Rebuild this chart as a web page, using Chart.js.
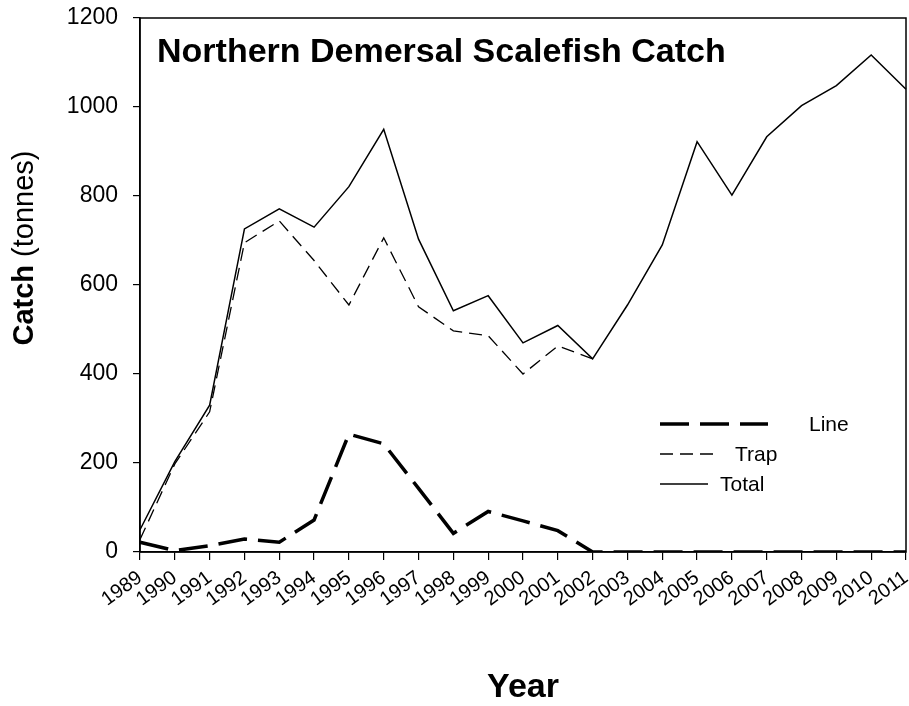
<!DOCTYPE HTML>
<html>
<head>
  <script src="https://cdn.jsdelivr.net/npm/chart.js"></script>
  <style>
    body { margin: 0; background: #fff; }
    #wrap { width: 909px; height: 706px; }
  </style>
</head>
<body>
  <div id="wrap"><canvas id="catchChart" width="909" height="706"></canvas></div>

  <script>
    // Data
    var years = ['1989','1990','1991','1992','1993','1994','1995','1996','1997','1998','1999',
                 '2000','2001','2002','2003','2004','2005','2006','2007','2008','2009','2010','2011'];
    var lineCatch  = [22, 3, 14, 29, 22, 72, 265, 243, 143, 42, 91, 70, 48, 0, 0, 0, 0, 0, 0, 0, 0, 0, 0];
    var trapCatch  = [28, 198, 315, 695, 744, 655, 555, 706, 551, 497, 486, 400, 463, 434];
    var totalCatch = [50, 203, 330, 726, 771, 730, 821, 950, 703, 542, 576, 470, 509, 434,
                      555, 690, 922, 802, 933, 1003, 1048, 1117, 1040];
    var yTicks = [0, 200, 400, 600, 800, 1000, 1200];

    var FONT = 'Arial, "Liberation Sans", sans-serif';
    Chart.defaults.font.family = FONT;
    Chart.defaults.color = '#000';

    // title, y title, box and legend drawn inside the plot like the original
    var extras = {
      id: 'extras',
      afterDraw: function(chart) {
        var ctx = chart.ctx, a = chart.chartArea;
        ctx.save();
        ctx.strokeStyle = '#000';
        ctx.lineWidth = 1.5;
        ctx.setLineDash([]);
        ctx.strokeRect(a.left, a.top, a.right - a.left, a.bottom - a.top);

        ctx.fillStyle = '#000';
        ctx.font = 'bold 34px ' + FONT;
        ctx.textBaseline = 'alphabetic';
        ctx.textAlign = 'left';
        ctx.fillText('Northern Demersal Scalefish Catch', a.left + 17, 62);

        // y axis title, mixed weight
        ctx.save();
        ctx.translate(33, 248);
        ctx.rotate(-Math.PI / 2);
        ctx.font = 'bold 29px ' + FONT;
        var w1 = ctx.measureText('Catch').width;
        ctx.font = '29px ' + FONT;
        var w2 = ctx.measureText(' (tonnes)').width;
        var x0 = -(w1 + w2) / 2;
        ctx.font = 'bold 29px ' + FONT;
        ctx.fillText('Catch', x0, 0);
        ctx.font = '29px ' + FONT;
        ctx.fillText(' (tonnes)', x0 + w1, 0);
        ctx.restore();

        // legend
        var items = [
          { ds: 0, y: 424, len: 108, tx: 809 },
          { ds: 1, y: 454, len: 53, tx: 735 },
          { ds: 2, y: 484, len: 48, tx: 720 }
        ];
        ctx.font = '21px ' + FONT;
        ctx.textBaseline = 'middle';
        items.forEach(function(it) {
          var ds = chart.data.datasets[it.ds];
          ctx.beginPath();
          ctx.lineWidth = ds.borderWidth;
          ctx.setLineDash(ds.borderDash || []);
          ctx.moveTo(660, it.y);
          ctx.lineTo(660 + it.len, it.y);
          ctx.stroke();
          ctx.setLineDash([]);
          ctx.fillText(ds.label, it.tx, it.y + 1);
        });
        ctx.restore();
      }
    };

    var myContext = document.getElementById('catchChart').getContext('2d');
    var myChart = new Chart(myContext, {
      type: 'line',
      data: {
        labels: years,
        datasets: [{
          label: 'Line',
          data: lineCatch,
          borderColor: '#000',
          borderWidth: 3.5,
          borderDash: [29, 11],
        }, {
          label: 'Trap',
          data: trapCatch,
          borderColor: '#000',
          borderWidth: 1.3,
          borderDash: [13, 7],
        }, {
          label: 'Total',
          data: totalCatch,
          borderColor: '#000',
          borderWidth: 1.5,
        }]
      },
      options: {
        responsive: false,
        animation: false,
        elements: { point: { radius: 0 }, line: { tension: 0, fill: false } },
        layout: { padding: { top: 18, right: 3, left: 0, bottom: 0 } },
        plugins: {
          legend: { display: false },
          tooltip: { enabled: false }
        },
        scales: {
          x: {
            offset: false,
            grid: { drawOnChartArea: false, drawTicks: true, tickLength: 8, color: '#000', lineWidth: 1.2 },
            border: { display: true, color: '#000', width: 1.5 },
            ticks: { font: { size: 20 }, maxRotation: 36, minRotation: 36, autoSkip: false, padding: 6 },
            title: { display: true, text: 'Year', font: { size: 34, weight: 'bold', lineHeight: 1.1 }, padding: { top: 0, bottom: 0 } },
            afterFit: function(s) { s.height = 154; s.paddingLeft = 0; s.paddingRight = 0; }
          },
          y: {
            min: 0,
            max: 1200,
            grid: { drawOnChartArea: false, drawTicks: true, tickLength: 7, color: '#000', lineWidth: 1.2 },
            border: { display: true, color: '#000', width: 1.5 },
            afterBuildTicks: function(s) { s.ticks = yTicks.map(function(v) { return { value: v }; }); },
            ticks: { font: { size: 23 }, padding: 15, callback: function(v) { return String(v); } },
            afterFit: function(s) { s.width = 140; s.paddingTop = 0; s.paddingBottom = 0; }
          }
        }
      },
      plugins: [extras]
    });
  </script>
</body>
</html>
